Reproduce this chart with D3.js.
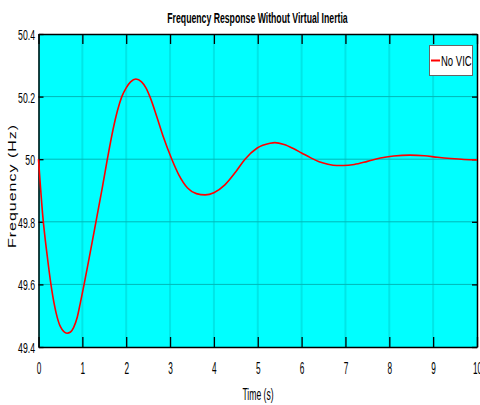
<!DOCTYPE html>
<html>
<head>
<meta charset="utf-8">
<script src="https://cdn.jsdelivr.net/npm/d3@7"></script>
<style>
  body { margin: 0; background: #fff; }
  text { font-family: "Liberation Sans", Arial, sans-serif; }
</style>
</head>
<body>
<div id="chart"></div>
<script>
// Width and height
var chart_width  = 480;
var chart_height = 405;
var margin = {top: 34, right: 3, bottom: 58, left: 38.5};

// Data
var times = [0, 0.1, 0.2, 0.3, 0.4, 0.5, 0.65, 0.73, 0.8, 0.885, 0.95, 1.04, 1.15, 1.31,
             1.45, 1.57, 1.7, 1.8, 1.9, 2.0, 2.1, 2.22, 2.35, 2.45, 2.54, 2.7, 2.85,
             3.04, 3.2, 3.4, 3.6, 3.8, 4.0, 4.25, 4.5, 4.71, 4.98, 5.28, 5.39, 5.6,
             5.8, 6.0, 6.2, 6.4, 6.6, 6.8, 6.95, 7.2, 7.5, 7.8, 8.1, 8.47, 8.8, 9.1,
             9.4, 9.7, 10];
var freq  = [50.0, 49.815, 49.69, 49.585, 49.51, 49.465, 49.444, 49.448, 49.462, 49.496,
             49.538, 49.6, 49.68, 49.8, 49.905, 50.0, 50.095, 50.155, 50.2, 50.228,
             50.247, 50.256, 50.247, 50.228, 50.2, 50.135, 50.07, 50.0, 49.95, 49.908,
             49.89, 49.886, 49.893, 49.918, 49.96, 50.0, 50.035, 50.051, 50.053, 50.047,
             50.035, 50.02, 50.005, 49.992, 49.984, 49.98, 49.98, 49.983, 49.993, 50.004,
             50.01, 50.013, 50.011, 50.006, 50.002, 49.999, 49.998];
var x_ticks = [0, 1, 2, 3, 4, 5, 6, 7, 8, 9, 10];
var y_ticks = [49.4, 49.6, 49.8, 50, 50.2, 50.4];
var series_name = 'No VIC';

var x = d3.scaleLinear().domain([0, 10]).range([margin.left, chart_width - margin.right]);
var y = d3.scaleLinear().domain([49.4, 50.4]).range([chart_height - margin.bottom, margin.top]);

var svg = d3.select('#chart')
  .append('svg')
  .attr('width', chart_width)
  .attr('height', chart_height);

// squeeze a text horizontally around its anchor point
function squish(sel, k, px, py) {
  sel.attr('x', 0).attr('y', 0)
    .attr('transform', 'translate(' + px + ',' + py + ') scale(' + k + ',1)');
}

// plot background
svg.append('rect')
  .attr('x', x(0))
  .attr('y', y(50.4))
  .attr('width', x(10) - x(0))
  .attr('height', y(49.4) - y(50.4))
  .attr('fill', '#00ffff');

// grid
svg.append('g')
  .selectAll('line')
  .data(x_ticks.slice(1, -1))
  .enter()
  .append('line')
  .attr('x1', (d) => x(d)).attr('x2', (d) => x(d))
  .attr('y1', y(50.4)).attr('y2', y(49.4))
  .attr('stroke', '#00e6e6')
  .attr('stroke-width', 2);

svg.append('g')
  .selectAll('line')
  .data(y_ticks.slice(1, -1))
  .enter()
  .append('line')
  .attr('x1', x(0)).attr('x2', x(10))
  .attr('y1', (d) => y(d)).attr('y2', (d) => y(d))
  .attr('stroke', '#00b8b8')
  .attr('stroke-width', 1);

// axes
var x_bottom = svg.append('g')
  .attr('transform', 'translate(0,' + y(49.4) + ')')
  .call(d3.axisBottom(x).tickValues(x_ticks).tickSizeInner(-10).tickSizeOuter(0).tickFormat(d3.format('d')));

var x_top = svg.append('g')
  .attr('transform', 'translate(0,' + y(50.4) + ')')
  .call(d3.axisTop(x).tickValues(x_ticks).tickSizeInner(-10).tickSizeOuter(0).tickFormat(''));

var y_left = svg.append('g')
  .attr('transform', 'translate(' + x(0) + ',0)')
  .call(d3.axisLeft(y).tickValues(y_ticks).tickSizeInner(-5).tickSizeOuter(0).tickFormat((d) => d3.format('')(d)));

var y_right = svg.append('g')
  .attr('transform', 'translate(' + x(10) + ',0)')
  .call(d3.axisRight(y).tickValues(y_ticks).tickSizeInner(-5).tickSizeOuter(0).tickFormat(''));

[x_bottom, x_top, y_left, y_right].forEach((g) => {
  g.select('.domain').attr('stroke', '#000').attr('stroke-width', 1.5);
  g.selectAll('.tick line').attr('stroke', '#000').attr('stroke-width', 1.3);
});

x_bottom.selectAll('.tick text')
  .attr('font-size', 16.5).attr('fill', '#000').attr('dy', null)
  .call(squish, 0.5, 0, 27);

y_left.selectAll('.tick text')
  .attr('font-size', 15).attr('fill', '#000').attr('dy', '0.36em')
  .call(squish, 0.58, -3.5, 0);

// curve
var line = d3.line()
  .x((d) => x(d[0]))
  .y((d) => y(d[1]))
  .curve(d3.curveMonotoneX);

svg.append('path')
  .datum(times.map((t, i) => [t, freq[i]]))
  .attr('d', line)
  .attr('fill', 'none')
  .attr('stroke', '#ff0000')
  .attr('stroke-width', 1.6);

// title and labels
svg.append('text')
  .text('Frequency Response Without Virtual Inertia')
  .attr('text-anchor', 'middle')
  .attr('font-size', 15)
  .attr('font-weight', 'bold')
  .call(squish, 0.58, 257.5, 22.5);

svg.append('text')
  .text('Time (s)')
  .attr('text-anchor', 'middle')
  .attr('font-size', 16.5)
  .call(squish, 0.52, 258, 400);

svg.append('text')
  .text('Frequency (Hz)')
  .attr('text-anchor', 'middle')
  .attr('font-size', 16)
  .attr('letter-spacing', 1)
  .attr('transform', 'translate(15.6,186) scale(0.7,1) rotate(-90)');

// legend
var legend = svg.append('g');
legend.append('rect')
  .attr('x', 429.5)
  .attr('y', 45.5)
  .attr('width', 43)
  .attr('height', 30)
  .attr('fill', '#fff')
  .attr('stroke', '#666')
  .attr('stroke-width', 1);
legend.append('line')
  .attr('x1', 431).attr('x2', 440)
  .attr('y1', 60.5).attr('y2', 60.5)
  .attr('stroke', '#ff0000')
  .attr('stroke-width', 2);
legend.append('text')
  .text(series_name)
  .attr('font-size', 14)
  .call(squish, 0.68, 441, 65.5);
</script>
</body>
</html>
